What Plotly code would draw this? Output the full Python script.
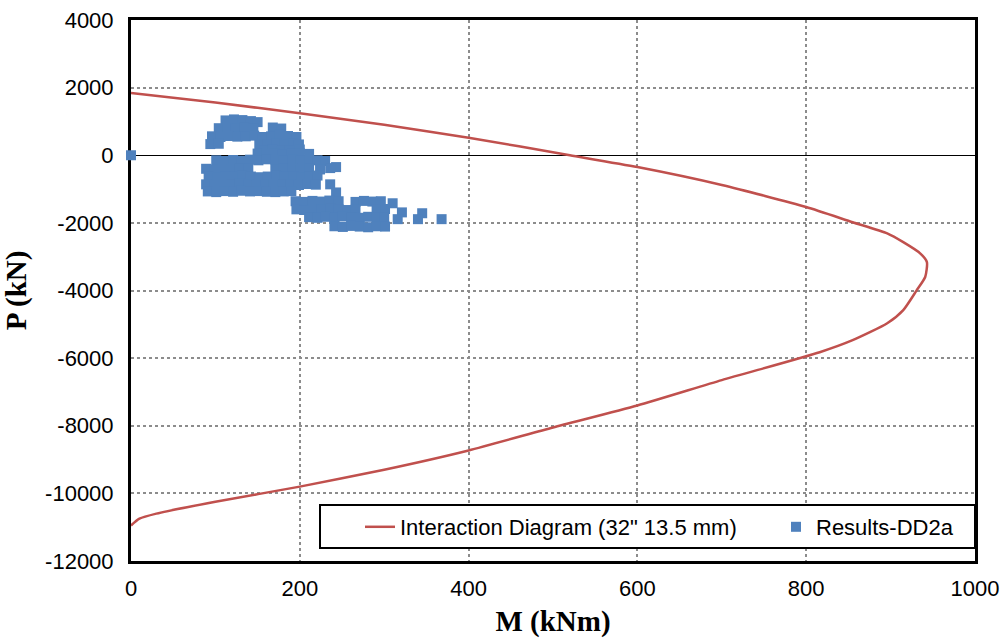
import plotly.graph_objects as go

# Interaction diagram (M in kNm, P in kN)
curve_M = [0, 100, 200, 300, 400, 520, 600, 700, 800, 855, 896, 915, 935, 943,
           941, 931, 915, 896, 855, 816, 700, 600, 500, 400, 300, 200, 100, 30, 10, 0]
curve_P = [1840, 1560, 1240, 900, 520, 0, -350, -880, -1530, -1980, -2310, -2570, -2900, -3160,
           -3600, -3990, -4580, -4970, -5470, -5825, -6650, -7400, -8050, -8730, -9300, -9800,
           -10250, -10600, -10750, -10950]

# Results-DD2a
res_M = [0,
         112, 122, 132, 142, 150,
         104, 114, 124, 134, 145, 168, 178,
         96, 106, 116, 126, 136, 146, 156, 166, 176, 186, 196,
         94, 104, 152, 162, 172, 182, 192, 199,
         158, 168, 178, 188, 200,
         150, 160, 170, 180, 190, 200, 211,
         101, 111, 121, 131, 141, 151, 161, 171, 181, 191, 201, 211, 221, 230,
         243,
         89, 99, 109, 119, 129, 139, 171, 181, 191, 201, 211, 224, 236,
         92, 102, 112, 122, 132, 142, 152, 162, 172, 182, 192, 202, 212, 221,
         89, 99, 109, 119, 129, 139, 149, 159, 169, 179, 189, 199, 209, 219, 236,
         91, 101, 111, 121, 131, 141, 151, 161, 171, 181, 190, 243,
         195, 205, 215, 225, 235, 246, 266, 276, 286, 296, 310,
         196, 206, 216, 226, 236, 246, 256, 266, 291, 301, 321, 345,
         211, 221, 231, 241, 251, 261, 271, 281, 291, 300, 316, 340, 368,
         241, 251, 261, 271, 281, 291, 301]
res_P = [0,
         1030, 1060, 1040, 1010, 980,
         800, 810, 790, 820, 780, 820, 790,
         560, 540, 570, 550, 560, 580, 540, 560, 600, 570, 540,
         330, 340, 330, 310, 340, 330, 350, 320,
         150, 160, 130, 150, 170,
         50, 40, 60, 30, 50, 60, 40,
         -150, -170, -140, -160, -130, -150, -120, -140, -150, -130, -160, -140, -150, -170,
         -350,
         -400, -420, -390, -410, -380, -400, -420, -400, -390, -410, -400, -420, -380,
         -630, -650, -620, -640, -610, -630, -650, -630, -610, -640, -620, -650, -630, -600,
         -860, -880, -850, -870, -840, -860, -880, -860, -850, -870, -860, -880, -850, -870, -860,
         -1070, -1090, -1060, -1080, -1050, -1070, -1060, -1080, -1090, -1070, -1060, -1100,
         -1360, -1380, -1350, -1370, -1340, -1360, -1380, -1350, -1370, -1360, -1420,
         -1600, -1620, -1590, -1610, -1580, -1600, -1620, -1610, -1600, -1590, -1690, -1715,
         -1830, -1850, -1820, -1840, -1810, -1830, -1850, -1820, -1840, -1830, -1890, -1890, -1890,
         -2100, -2120, -2090, -2110, -2130, -2100, -2110]

x_ticks = [0, 200, 400, 600, 800, 1000]
x_labels = ["0", "200", "400", "600", "800", "1000"]
y_ticks = [4000, 2000, 0, -2000, -4000, -6000, -8000, -10000, -12000]
y_labels = ["4000", "2000", "0", "-2000", "-4000", "-6000", "-8000", "-10000", "-12000"]

fig = go.Figure()
fig.add_trace(go.Scatter(
    x=curve_M, y=curve_P, mode="lines",
    name='Interaction Diagram (32" 13.5 mm)',
    line=dict(color="#C0504D", width=2.5, shape="spline", smoothing=0.6),
    legend="legend",
))
fig.add_trace(go.Scatter(
    x=res_M, y=res_P, mode="markers", name="Results-DD2a",
    marker=dict(symbol="square", size=10, color="#4F81BD"),
    cliponaxis=False,
    legend="legend2",
))

tick_font = dict(family="Liberation Sans, Arial, sans-serif", size=22, color="black")
title_font = dict(family="Liberation Serif, Times New Roman, serif", size=29, color="black")
leg_font = dict(family="Liberation Sans, Arial, sans-serif", size=22, color="black")

# plot area in px: x 131..975, y 20..561
def px_x(p):
    return (p - 131) / 844.0

def px_y(p):
    return (561 - p) / 541.0

fig.update_layout(
    width=1004, height=638,
    margin=dict(l=131, r=29, t=20, b=77),
    paper_bgcolor="white", plot_bgcolor="white",
    showlegend=True,
    legend=dict(
        x=px_x(360), xanchor="left", y=px_y(527), yanchor="middle",
        bgcolor="rgba(0,0,0,0)", borderwidth=0, font=leg_font,
    ),
    legend2=dict(
        x=px_x(776), xanchor="left", y=px_y(527), yanchor="middle",
        bgcolor="rgba(0,0,0,0)", borderwidth=0, font=leg_font,
    ),
    shapes=[dict(
        type="rect", xref="paper", yref="paper",
        x0=px_x(320), x1=px_x(975), y0=px_y(548), y1=px_y(505),
        line=dict(color="black", width=2), fillcolor="white", layer="above",
    )],
    xaxis=dict(
        range=[0, 1000], tickvals=x_ticks, ticktext=x_labels,
        showgrid=True, gridcolor="#8c8c8c", griddash="dot", gridwidth=1.5,
        showline=True, linecolor="black", linewidth=3, mirror=True,
        zeroline=False, ticks="", tickfont=tick_font, automargin=False,
        ticklabelstandoff=6, layer="below traces",
        title=dict(text="<b>M (kNm)</b>", font=title_font, standoff=17),
    ),
    yaxis=dict(
        range=[-12000, 4000], tickvals=y_ticks, ticktext=y_labels,
        showgrid=True, gridcolor="#8c8c8c", griddash="dot", gridwidth=1.5,
        showline=True, linecolor="black", linewidth=3, mirror=True,
        zeroline=True, zerolinecolor="black", zerolinewidth=1.2,
        ticks="", tickfont=tick_font, automargin=False,
        ticklabelstandoff=10, layer="below traces",
        title=dict(text="<b>P (kN)</b>", font=title_font, standoff=13),
    ),
)

fig.write_html("out.html")
